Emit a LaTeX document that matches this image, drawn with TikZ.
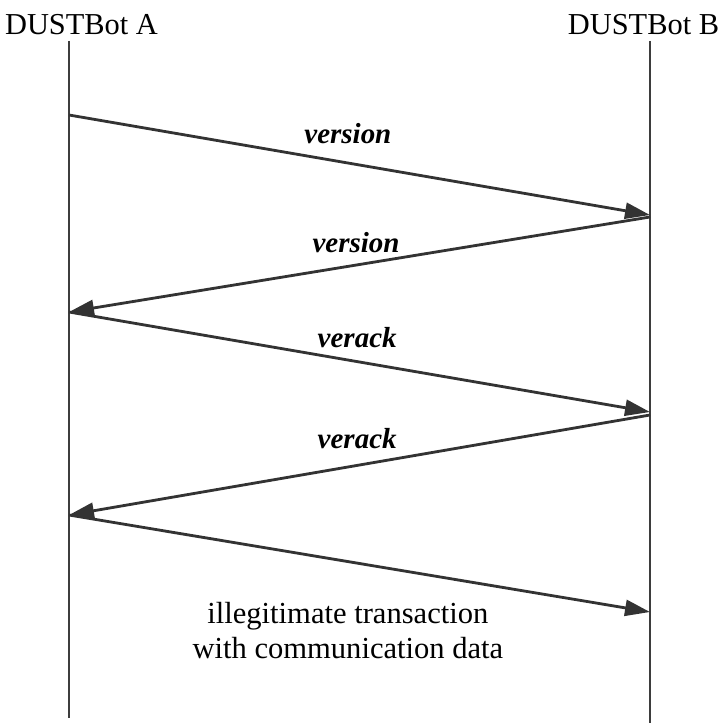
\documentclass[tikz,border=0pt]{standalone}
\usepackage{fontspec}
\setmainfont{Liberation Serif}
\usetikzlibrary{arrows.meta,positioning}
\definecolor{seqgray}{HTML}{333333}

\begin{document}
\begin{tikzpicture}[x=0.02cm, y=-0.02cm,
  bot/.style={font=\fontsize{17.3}{20}\selectfont, anchor=base, inner sep=0pt},
  life/.style={draw=seqgray!95, line width=1.3pt},
  msg/.style={draw=seqgray, line width=1.6pt, -{Triangle[length=0.5cm,width=0.32cm]}},
  tag/.style={font=\fontsize{16.5}{20}\selectfont\bfseries\itshape, anchor=base, inner sep=0pt},
  note/.style={font=\fontsize{17.4}{20}\selectfont, align=center, inner sep=0pt}
]
\useasboundingbox (0,0) rectangle (721,723);
% Participants
\node[bot] (botA) at (81.5,35) {DUSTBot A};
\node[bot] (botB) at (643.5,35) {DUSTBot B};

% Lifelines
\coordinate (atop) at (69,41);
\coordinate (abot) at (69,718);
\coordinate (btop) at (650,41);
\coordinate (bbot) at (650,723);
\draw[life] (atop) -- (abot);
\draw[life] (btop) -- (bbot);

% Message ends
\coordinate (a1) at (69,115);
\coordinate (b1) at (650,215);
\coordinate (b2) at (650,217);
\coordinate (a2) at (69,312);
\coordinate (b3) at (650,412);
\coordinate (b4) at (650,415);
\coordinate (a4) at (69,515);
\coordinate (b5) at (650,612);

% Messages
\draw[msg] (a1) -- node[tag, pos=0.48, yshift=0.4cm] {version} (b1);
\draw[msg] (b2) -- node[tag, pos=0.506, yshift=0.26cm] {version} (a2);
\draw[msg] (a2) -- node[tag, pos=0.496, yshift=0.29cm] {verack} (b3);
\draw[msg] (b4) -- node[tag, pos=0.504, yshift=0.34cm] {verack} (a4);
\draw[msg] (a4) -- node[note, pos=0.48, below=0.79cm] {illegitimate transaction\\with communication data} (b5);
\end{tikzpicture}
\end{document}
